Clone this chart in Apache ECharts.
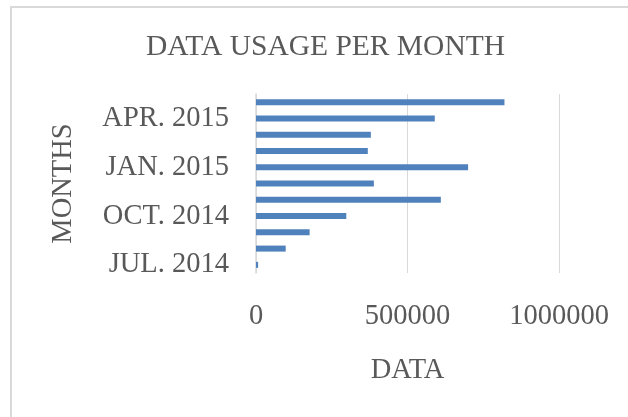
<!DOCTYPE html>
<html>
<head>
<meta charset="utf-8">
<script src="https://cdn.jsdelivr.net/npm/echarts@6/dist/echarts.min.js"></script>
<style>
  html, body { margin: 0; padding: 0; background: #ffffff; }
  #frame { position: absolute; left: 10px; top: 6px; width: 700px; height: 500px; border: 2px solid #d9d9d9; box-sizing: border-box; }
  #chart { position: absolute; left: 0; top: 0; width: 628px; height: 417px; }
</style>
</head>
<body>
<div id="frame"></div>
<div id="chart"></div>
<script>
const months = ['JUL. 2014', 'AUG. 2014', 'SEP. 2014', 'OCT. 2014', 'NOV. 2014', 'DEC. 2014',
                'JAN. 2015', 'FEB. 2015', 'MAR. 2015', 'APR. 2015', 'MAY 2015'];
const usage = [7000, 98000, 177000, 298000, 610000, 389000, 700000, 369000, 379000, 590000, 820000];
const xTicks = [0, 500000, 1000000];

const FONT = '"Liberation Serif", "Times New Roman", serif';
const chart = echarts.init(document.getElementById('chart'), null, { renderer: 'canvas' });
chart.setOption({
  backgroundColor: 'transparent',
  animation: false,
  title: {
    text: 'DATA USAGE PER MONTH',
    left: 141,
    top: 27,
    textStyle: { fontFamily: FONT, fontSize: 29.5, fontWeight: 'normal', color: '#595959' }
  },
  grid: { left: 256, right: 69, top: 94, bottom: 144, containLabel: false },
  xAxis: {
    type: 'value',
    min: xTicks[0],
    max: xTicks[xTicks.length - 1],
    interval: xTicks[1] - xTicks[0],
    name: 'DATA',
    nameLocation: 'middle',
    nameGap: 83,
    nameTextStyle: { fontFamily: FONT, fontSize: 28.5, color: '#595959' },
    axisLine: { show: false },
    axisTick: { show: false },
    axisLabel: { fontFamily: FONT, fontSize: 28.5, color: '#595959', margin: 29, formatter: v => String(v) },
    splitLine: { show: true, lineStyle: { color: '#d9d9d9', width: 1 } }
  },
  yAxis: {
    type: 'category',
    data: months,
    name: 'MONTHS',
    nameLocation: 'middle',
    nameGap: 178,
    nameTextStyle: { fontFamily: FONT, fontSize: 28.5, color: '#595959' },
    axisLine: { show: true, lineStyle: { color: '#d9d9d9', width: 1.5 } },
    axisTick: { show: false },
    axisLabel: { interval: 2, fontFamily: FONT, fontSize: 28.5, color: '#595959', margin: 27 }
  },
  series: [{
    type: 'bar',
    data: usage,
    barWidth: 6,
    itemStyle: { color: '#4f81bd' }
  }]
});
</script>
</body>
</html>
